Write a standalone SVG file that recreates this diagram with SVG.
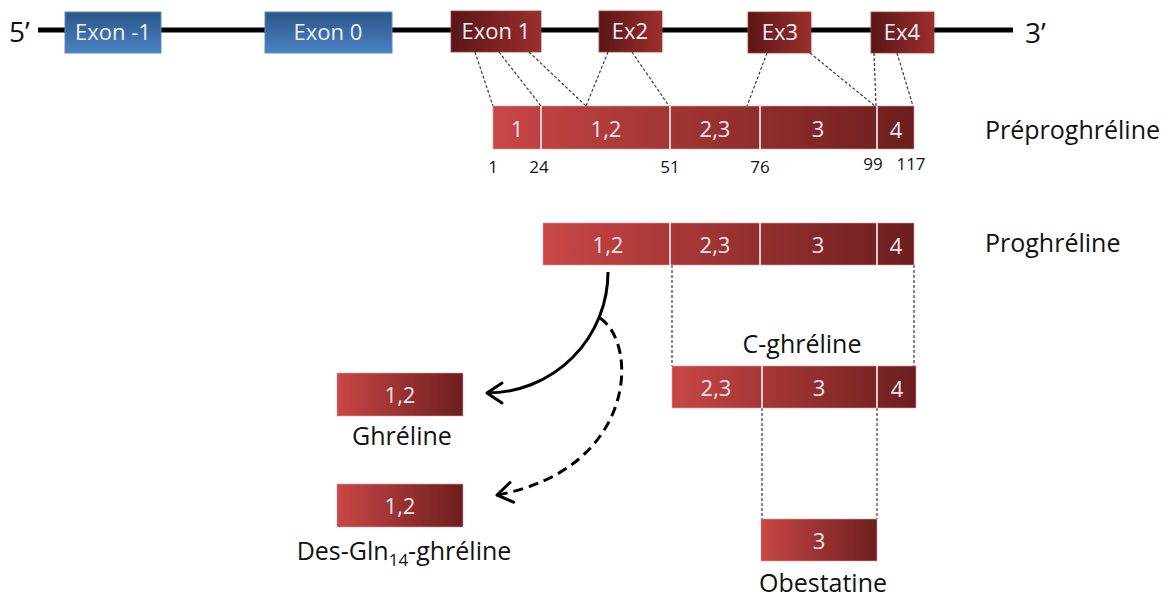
<svg xmlns="http://www.w3.org/2000/svg" width="1170" height="598" viewBox="0 0 1170 598">
<defs>
<linearGradient id="gBlue" x1="0" y1="0" x2="0" y2="1"><stop offset="0" stop-color="#2b5788"/><stop offset="1" stop-color="#4a80c3"/></linearGradient>
<linearGradient id="gDark" x1="0" y1="0" x2="1" y2="0"><stop offset="0" stop-color="#5a1616"/><stop offset="1" stop-color="#9c2e2e"/></linearGradient>
<linearGradient id="gPep" x1="0" y1="0" x2="1" y2="0"><stop offset="0" stop-color="#c94646"/><stop offset="1" stop-color="#6c1e1e"/></linearGradient>
<marker id="arr" markerUnits="userSpaceOnUse" markerWidth="30" markerHeight="30" viewBox="-20 -15 30 30" refX="0" refY="0" orient="auto">
<path d="M-15,-10 L0,0 L-15,10" fill="none" stroke="#000" stroke-width="3" stroke-linecap="round" stroke-linejoin="round"/>
</marker>
<style>
text{font-family:"Open Sans","Liberation Sans",sans-serif;}
.lbl{font-size:25px;fill:#111;}
.end{font-size:28px;fill:#111;}
.ex{font-size:22px;fill:#eef0f6;text-anchor:middle;}
.seg{font-size:22px;fill:#f4e6e6;text-anchor:middle;}
.num{font-size:17px;fill:#111;text-anchor:middle;}
.blue{fill:url(#gBlue);stroke:#5a8ac4;stroke-width:1;}
.dark{fill:url(#gDark);stroke:#a04040;stroke-width:0.8;}
.pep{fill:url(#gPep);stroke:#d9a0a0;stroke-width:0.6;}
.div{stroke:#ffffff;stroke-width:1.5;}
.dash{stroke:#3a3a3a;stroke-width:1.2;stroke-dasharray:3 2;fill:none;}
.mid{text-anchor:middle;}
</style>
</defs>
<rect width="1170" height="598" fill="#ffffff"/>

<g id="gene">
<line x1="38" y1="30" x2="1013" y2="30" stroke="#000" stroke-width="5"/>
<text class="end" x="9" y="42">5’</text>
<text class="end" x="1025" y="43">3’</text>
</g>

<g id="exon-m1"><rect class="blue" x="65" y="12" width="96" height="41"/><text class="ex" x="113" y="40">Exon -1</text></g>
<g id="exon-0"><rect class="blue" x="265" y="12" width="127" height="41"/><text class="ex" x="328" y="40">Exon 0</text></g>
<g id="exon-1"><rect class="dark" x="451" y="11" width="90" height="41"/><text class="ex" x="496" y="39">Exon 1</text></g>
<g id="exon-2"><rect class="dark" x="599" y="11" width="63" height="41"/><text class="ex" x="630" y="39">Ex2</text></g>
<g id="exon-3"><rect class="dark" x="748" y="12" width="63" height="41"/><text class="ex" x="780" y="40">Ex3</text></g>
<g id="exon-4"><rect class="dark" x="871" y="12" width="63" height="41"/><text class="ex" x="902" y="40">Ex4</text></g>

<g id="connectors">
<line class="dash" x1="475" y1="52" x2="493" y2="106"/>
<line class="dash" x1="499" y1="52" x2="541" y2="106"/>
<line class="dash" x1="529" y1="52" x2="586" y2="106"/>
<line class="dash" x1="608" y1="52" x2="586" y2="106"/>
<line class="dash" x1="632" y1="52" x2="669" y2="106"/>
<line class="dash" x1="767" y1="53" x2="747" y2="106"/>
<line class="dash" x1="810" y1="53" x2="875" y2="106"/>
<line class="dash" x1="874" y1="53" x2="876" y2="106"/>
<line class="dash" x1="897" y1="53" x2="913" y2="106"/>
<line class="dash" x1="672" y1="265" x2="672" y2="366"/>
<line class="dash" x1="914" y1="265" x2="914" y2="366"/>
<line class="dash" x1="762" y1="408" x2="762" y2="519"/>
<line class="dash" x1="877" y1="408" x2="877" y2="519"/>
<path d="M608,272 A121,121 0 0 1 487,393" fill="none" stroke="#000" stroke-width="3" marker-end="url(#arr)"/>
<path d="M600,318 C640,345 635,470 497,495" fill="none" stroke="#000" stroke-width="3" stroke-dasharray="10 6" marker-end="url(#arr)"/>
</g>

<g id="preproghreline">
<rect class="pep" x="493" y="106" width="421" height="43"/>
<line class="div" x1="541" y1="106" x2="541" y2="149"/>
<line class="div" x1="670" y1="106" x2="670" y2="149"/>
<line class="div" x1="760" y1="106" x2="760" y2="149"/>
<line class="div" x1="877" y1="106" x2="877" y2="149"/>
<text class="seg" x="517" y="137">1</text>
<text class="seg" x="606" y="137">1,2</text>
<text class="seg" x="715" y="137">2,3</text>
<text class="seg" x="818" y="137">3</text>
<text class="seg" x="896" y="138">4</text>
<text class="num" x="493" y="173">1</text>
<text class="num" x="539" y="173">24</text>
<text class="num" x="670" y="173">51</text>
<text class="num" x="760" y="173">76</text>
<text class="num" x="873" y="170">99</text>
<text class="num" x="911" y="170">117</text>
<text class="lbl" x="985" y="139">Préproghréline</text>
</g>

<g id="proghreline">
<rect class="pep" x="543" y="223" width="371" height="42"/>
<line class="div" x1="670" y1="223" x2="670" y2="265"/>
<line class="div" x1="760" y1="223" x2="760" y2="265"/>
<line class="div" x1="877" y1="223" x2="877" y2="265"/>
<text class="seg" x="608" y="253">1,2</text>
<text class="seg" x="715" y="253">2,3</text>
<text class="seg" x="818" y="253">3</text>
<text class="seg" x="896" y="254">4</text>
<text class="lbl" x="985" y="252">Proghréline</text>
</g>

<g id="c-ghreline">
<rect class="pep" x="672" y="366" width="244" height="42"/>
<line class="div" x1="762" y1="366" x2="762" y2="408"/>
<line class="div" x1="877" y1="366" x2="877" y2="408"/>
<text class="seg" x="716" y="396">2,3</text>
<text class="seg" x="819" y="396">3</text>
<text class="seg" x="897" y="397">4</text>
<text class="lbl mid" x="802" y="353">C-ghréline</text>
</g>

<g id="obestatine">
<rect class="pep" x="761" y="519" width="116" height="42"/>
<text class="seg" x="819" y="549">3</text>
<text class="lbl mid" x="823" y="592">Obestatine</text>
</g>

<g id="ghreline">
<rect class="pep" x="337" y="373" width="126" height="43"/>
<text class="seg" x="400" y="403">1,2</text>
<text class="lbl mid" x="402" y="445">Ghréline</text>
</g>

<g id="des-gln-ghreline">
<rect class="pep" x="337" y="484" width="126" height="43"/>
<text class="seg" x="400" y="514">1,2</text>
<text class="lbl mid" x="404" y="560">Des-Gln<tspan font-size="17" dy="6">14</tspan><tspan dy="-6">-ghréline</tspan></text>
</g>
</svg>
